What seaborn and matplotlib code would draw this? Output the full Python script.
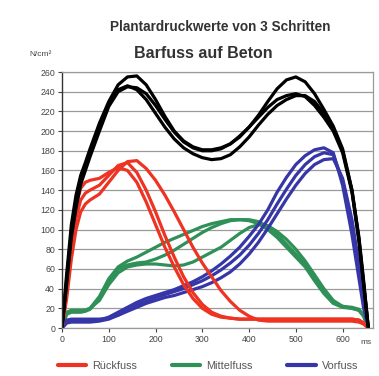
import matplotlib
matplotlib.use("Agg")
import matplotlib.pyplot as plt
import seaborn as sns
import pandas as pd
import numpy as np

# time axis (ms)
t = [0, 10, 20, 30, 40, 50, 60, 80, 100, 120, 140, 160, 180, 200, 220, 240, 260, 280, 300,
     320, 340, 360, 380, 400, 420, 440, 460, 480, 500, 520, 540, 560, 580, 600, 620, 635, 645, 655]

# Gesamt (black), three steps
gesamt_1 = [0, 55, 105, 135, 155, 168, 182, 208, 230, 247, 255, 256, 247, 232, 215, 200, 190, 184, 181,
            181, 183, 187, 194, 204, 216, 230, 243, 252, 255, 250, 238, 222, 205, 182, 140, 90, 45, 0]
gesamt_2 = [0, 50, 98, 128, 150, 165, 178, 205, 228, 242, 246, 242, 232, 218, 204, 192, 183, 177, 173,
            171, 172, 176, 184, 194, 206, 217, 226, 232, 236, 236, 230, 218, 203, 180, 140, 92, 48, 0]
gesamt_3 = [0, 45, 92, 122, 146, 160, 174, 200, 225, 240, 245, 244, 238, 226, 212, 199, 189, 183, 180,
            180, 182, 187, 195, 204, 214, 224, 232, 236, 238, 235, 226, 214, 200, 178, 138, 88, 44, 0]

# Rückfuss (red)
rueck_1 = [0, 40, 90, 125, 142, 148, 150, 152, 158, 163, 160, 148, 128, 105, 82, 62, 44, 30, 20,
           14, 11, 10, 9, 9, 9, 9, 9, 9, 9, 9, 9, 9, 9, 9, 9, 8, 5, 0]
rueck_2 = [0, 35, 80, 112, 130, 137, 140, 145, 155, 165, 168, 158, 140, 118, 94, 72, 52, 36, 24,
           16, 12, 10, 9, 9, 9, 9, 9, 9, 9, 9, 9, 9, 9, 9, 9, 8, 5, 0]
rueck_3 = [0, 30, 70, 100, 118, 126, 130, 136, 148, 160, 169, 170, 162, 150, 135, 118, 100, 82, 66,
           52, 38, 27, 18, 12, 8, 7, 7, 7, 7, 7, 7, 7, 7, 7, 7, 6, 4, 0]

# Mittelfuss (green)
mittel_1 = [0, 15, 17, 17, 17, 18, 20, 32, 50, 62, 68, 72, 77, 82, 87, 91, 95, 99, 103,
            106, 108, 110, 110, 109, 106, 100, 92, 82, 72, 62, 48, 35, 25, 21, 20, 18, 12, 0]
mittel_2 = [0, 14, 16, 16, 16, 17, 19, 30, 48, 60, 64, 66, 67, 70, 74, 79, 85, 91, 97,
            102, 106, 109, 110, 110, 108, 103, 95, 85, 75, 64, 50, 36, 26, 22, 21, 19, 13, 0]
mittel_3 = [0, 16, 18, 18, 18, 18, 20, 28, 44, 56, 62, 64, 65, 65, 64, 63, 64, 67, 72,
            77, 82, 89, 96, 102, 105, 104, 98, 90, 80, 68, 54, 40, 28, 22, 20, 18, 12, 0]

# Vorfuss (blue)
vor_1 = [0, 6, 7, 7, 7, 7, 7, 8, 11, 16, 21, 26, 30, 33, 36, 39, 43, 47, 52,
         58, 65, 73, 82, 93, 105, 120, 138, 153, 166, 175, 181, 183, 178, 145, 95, 50, 20, 0]
vor_2 = [0, 5, 6, 6, 6, 6, 6, 7, 9, 13, 18, 23, 27, 31, 34, 37, 40, 44, 48,
         53, 59, 66, 74, 84, 96, 110, 126, 141, 155, 166, 174, 178, 176, 150, 105, 60, 26, 0]
vor_3 = [0, 8, 9, 9, 9, 9, 9, 9, 10, 13, 17, 21, 25, 28, 31, 33, 36, 39, 42,
         46, 51, 57, 65, 75, 87, 101, 116, 131, 145, 157, 166, 171, 172, 152, 110, 65, 30, 0]

y_ticks = list(range(0, 261, 20))
x_ticks = [0, 100, 200, 300, 400, 500, 600]
legend_labels = ["Rückfuss", "Mittelfuss", "Vorfuss"]
title_top = "Plantardruckwerte von 3 Schritten"
title_main = "Barfuss auf Beton"
y_unit = "N/cm²"
x_unit = "ms"

c_red = "#ee3322"
c_green = "#2f9058"
c_blue = "#3636a8"
c_black = "#000000"

sns.set_style("white")
plt.rcParams['font.family'] = ['Liberation Sans', 'DejaVu Sans']

fig = plt.figure(figsize=(3.79, 3.76), dpi=100)
ax = fig.add_axes([62/379, 1-328/376, (373-62)/379, (328-72)/376])

for yv in y_ticks:
    ax.axhline(yv, color="#9a9a9a", lw=0.9, zorder=0)

lw = 2.3
series = [
    (c_green, [mittel_1, mittel_2, mittel_3]),
    (c_blue, [vor_1, vor_2, vor_3]),
    (c_red, [rueck_1, rueck_2, rueck_3]),
    (c_black, [gesamt_1, gesamt_2, gesamt_3]),
]
for color, traces in series:
    for tr in traces:
        sns.lineplot(x=t, y=tr, color=color, lw=lw, ax=ax, estimator=None, legend=False)

ax.set_xlim(0, 665)
ax.set_ylim(0, 260)
ax.set_yticks(y_ticks)
ax.set_xticks(x_ticks)
ax.tick_params(axis='both', labelsize=6.3, colors="#444444", length=3, width=0.8, pad=2)
ax.tick_params(axis='y', direction='out', left=True)
ax.tick_params(axis='x', direction='out', bottom=True)
for side in ["top", "right", "bottom"]:
    ax.spines[side].set_color("#9a9a9a")
    ax.spines[side].set_linewidth(0.9)
ax.spines["left"].set_color("#333333")
ax.spines["left"].set_linewidth(1.0)
ax.set_xlabel("")
ax.set_ylabel("")

fig.text(220/379, 1-27/376, title_top, ha="center", va="center", fontsize=9.8,
         fontweight="bold", color="#333333")
fig.text(203/379, 1-54/376, title_main, ha="center", va="center", fontsize=11.5,
         fontweight="bold", color="#333333")
fig.text(40/379, 1-54/376, y_unit, ha="center", va="center", fontsize=6, color="#444444")
fig.text(366/379, 1-343/376, x_unit, ha="center", va="center", fontsize=6, color="#444444")

handles = [plt.Line2D([], [], color=c, lw=3) for c in (c_red, c_green, c_blue)]
fig.legend(handles, legend_labels, loc="center", bbox_to_anchor=(208/379, 1-366/376), ncol=3,
           frameon=False, fontsize=7.8, handlelength=2.6, handletextpad=0.6,
           columnspacing=3.2, labelcolor="#555555")

fig.savefig("out.png", dpi=100, facecolor="white")
